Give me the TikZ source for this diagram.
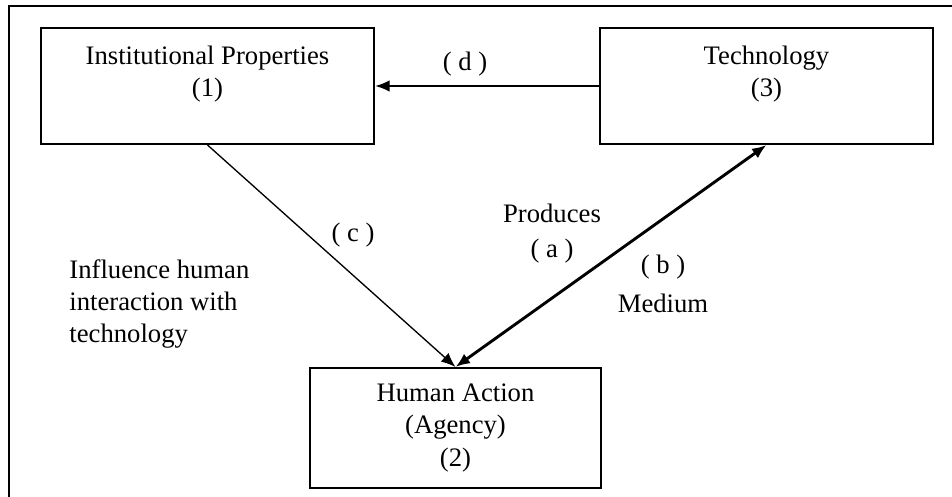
\documentclass[tikz,border=0pt]{standalone}
\usepackage{fontspec}
\setmainfont{Liberation Serif}
\usetikzlibrary{arrows.meta, positioning}

\begin{document}
\begin{tikzpicture}[
    x=0.45pt, y=-0.45pt,
    font=\fontsize{12}{14.5}\selectfont,
    box/.style = {
        rectangle, draw=black, line width=0.9pt,
        minimum width=150pt, minimum height=52.2pt,
        align=center, inner sep=0pt
    },
    tip/.style = {Latex[length=6.5pt, width=5.2pt]},
    arr/.style = {-{Latex[length=6.5pt, width=5.2pt]}, line width=0.6pt},
    ann/.style = {inner sep=0pt, anchor=base},
]
\useasboundingbox (0,0) rectangle (952,497);
% outer frame (only top and left edges fall inside the page)
\draw[line width=0.9pt] (9,530) -- (9,6) -- (980,6);

\node[box] (inst) at (207.5,86) {Institutional Properties\\(1)\\[-1pt]~};
\node[box] (tech) at (766.5,86) {Technology\\(3)\\[-1pt]~};
\node[box, minimum width=131pt, minimum height=54pt] (human) at (455.5,428)
    {Human Action\\(Agency)\\(2)};

\draw[arr, line width=0.8pt] (tech.west) -- (inst.east);
\draw[arr] (inst.south) -- (human.north);
\draw[{Latex[length=6.5pt, width=5.2pt]}-{Latex[length=6.5pt, width=5.2pt]}, line width=1.3pt]
    (human.north) -- (tech.south);

\node[ann] (lbld) at (465,71) {( d )};
\node[ann] (lblc) at (353,242) {( c )};
\node[ann] (prod) at (552,223) {Produces};
\node[ann] (lbla) at (552,258) {( a )};
\node[ann] (lblb) at (663,274) {( b )};
\node[ann] (med) at (663,313) {Medium};
\node[anchor=north west, align=left, inner sep=0pt] (infl) at (69,259)
    {Influence human\\interaction with\\technology};

\end{tikzpicture}
\end{document}
